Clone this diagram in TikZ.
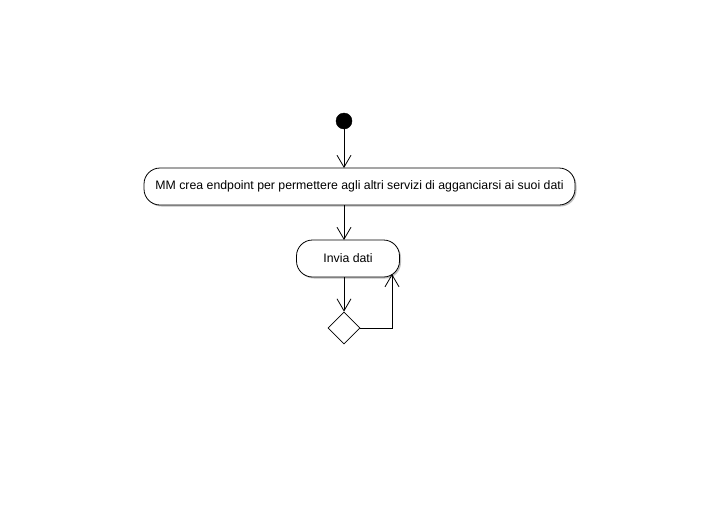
\documentclass[tikz,border=0pt]{standalone}
\usepackage{fontspec}
\setmainfont{Liberation Sans}
\usetikzlibrary{arrows.meta,shapes.geometric,shadows}
\begin{document}
\begin{tikzpicture}[x=1pt,y=-1pt,
  act/.style={draw,line width=0.8pt,rounded corners=16pt,fill=white,minimum height=37pt,inner sep=0pt,font=\fontsize{12.3pt}{14pt}\selectfont,
    drop shadow={shadow xshift=1.5pt,shadow yshift=-1.5pt,fill=black!25,opacity=1}},
  flow/.style={line width=0.8pt,-{Straight Barb[length=12pt,width=14pt,line width=0.8pt]}},
  dec/.style={draw,line width=0.8pt,diamond,minimum width=32pt,minimum height=32pt,inner sep=0pt,fill=white}]
\useasboundingbox (0,0) rectangle (719,520);
\fill[white] (0,0) rectangle (719,520);
\node[circle,fill=black,draw=black,minimum size=16pt,inner sep=0pt] (start) at (344,121) {};
\node[act,minimum width=431pt] (a1) at (359.5,186.5) {MM crea endpoint per permettere agli altri servizi di agganciarsi ai suoi dati};
\node[act,minimum width=103pt] (a2) at (348,258.5) {Invia dati};
\node[dec] (d) at (344,328) {};
\coordinate (loopend) at (392,274);
\draw[flow] (start) -- (344,168);
\draw[flow] (344,205) -- (344,240);
\draw[flow] (344,277) -- (d.north);
\draw[flow] (d.east) -| (loopend);
\end{tikzpicture}
\end{document}
